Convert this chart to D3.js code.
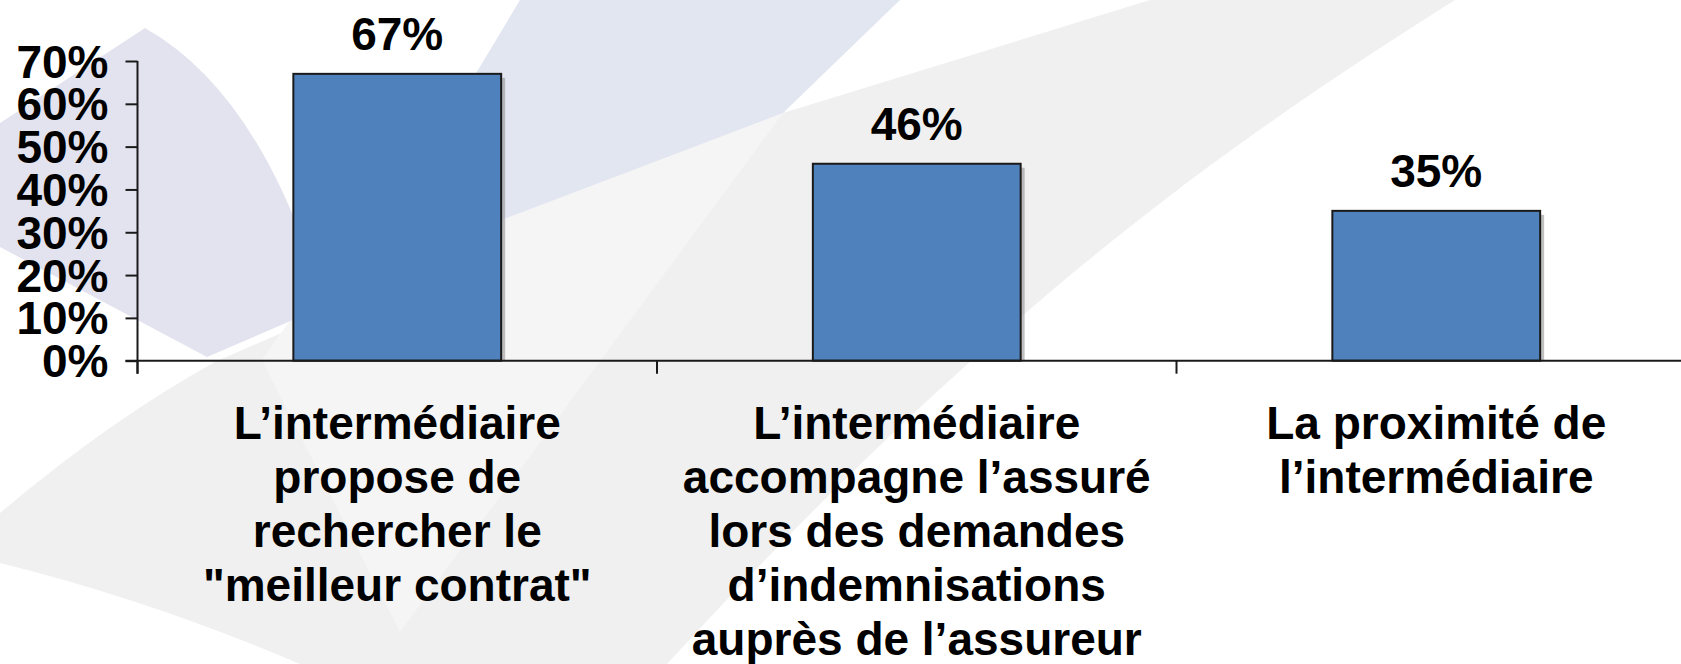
<!DOCTYPE html>
<html>
<head>
<meta charset="utf-8">
<script src="https://cdn.jsdelivr.net/npm/d3@7"></script>
<style>
  body { margin: 0; background: #fff; overflow: hidden; }
  svg text { font-family: "Liberation Sans", Arial, sans-serif; font-weight: bold; fill: #000; }
</style>
</head>
<body>
<svg id="chart" width="1681" height="664"></svg>
<script>
// data
var categories = ['meilleur-contrat', 'indemnisations', 'proximite'];
var categoryLines = [
    ['L’intermédiaire', 'propose de', 'rechercher le', '"meilleur contrat"'],
    ['L’intermédiaire', 'accompagne l’assuré', 'lors des demandes', 'd’indemnisations', 'auprès de l’assureur'],
    ['La proximité de', 'l’intermédiaire']
];
var values = [67, 46, 35];
var yTicks = [0, 10, 20, 30, 40, 50, 60, 70];
var yTickLabels = ['0%', '10%', '20%', '30%', '40%', '50%', '60%', '70%'];

var width = 1681,
    height = 664,
    axisX = 137.5,
    axisY = 360.7,
    topY = 61,
    fontSize = 46;

var svg = d3.select('#chart');

drawBackground();

var y = d3.scaleLinear()
    .domain([0, 70])
    .range([axisY, topY]);

var x = d3.scaleBand()
    .domain(categories)
    .range([axisX, axisX + 3 * 519.5])
    .paddingInner(0.6)
    .paddingOuter(0.3);

// bars with their little drop shadow
var bars = svg.append('g').attr('class', 'bars');

bars.selectAll('rect.shadow')
    .data(values)
    .enter().append('rect')
    .attr('class', 'shadow')
    .attr('x', function(d, i){ return x(categories[i]) + 4; })
    .attr('y', function(d){ return y(d) + 4; })
    .attr('width', x.bandwidth())
    .attr('height', function(d){ return axisY - y(d) - 4; })
    .attr('fill', '#8c8c8c')
    .attr('opacity', 0.55);

bars.selectAll('rect.bar')
    .data(values)
    .enter().append('rect')
    .attr('class', 'bar')
    .attr('x', function(d, i){ return x(categories[i]); })
    .attr('y', function(d){ return y(d); })
    .attr('width', x.bandwidth())
    .attr('height', function(d){ return axisY - y(d); })
    .attr('fill', '#4f81bd')
    .attr('stroke', '#1a1a1a')
    .attr('stroke-width', 2);

// value labels above the bars
bars.selectAll('text.value')
    .data(values)
    .enter().append('text')
    .attr('class', 'value')
    .attr('x', function(d, i){ return x(categories[i]) + x.bandwidth() / 2; })
    .attr('y', function(d){ return y(d) - 24; })
    .attr('text-anchor', 'middle')
    .style('font-size', fontSize + 'px')
    .text(function(d){ return d + '%'; });

// y axis
var yAxis = d3.axisLeft(y)
    .tickValues(yTicks)
    .tickFormat(function(d, i){ return yTickLabels[i]; })
    .tickSize(12)
    .tickSizeOuter(0)
    .tickPadding(17);

var yg = svg.append('g')
    .attr('transform', 'translate(' + axisX + ',0)')
    .call(yAxis);

yg.select('.domain').remove();
yg.selectAll('.tick line').attr('stroke', '#1a1a1a').attr('stroke-width', 2);
yg.selectAll('.tick text')
    .attr('dy', '0.35em')
    .style('font-size', fontSize + 'px')
    .style('font-family', '"Liberation Sans", Arial, sans-serif')
    .style('font-weight', 'bold')
    .attr('fill', '#000');

// axis lines: the vertical one runs a bit under the baseline
svg.append('line')
    .attr('x1', axisX).attr('x2', axisX)
    .attr('y1', y(70)).attr('y2', axisY + 13)
    .attr('stroke', '#1a1a1a').attr('stroke-width', 2);

svg.append('line')
    .attr('x1', axisX - 12).attr('x2', width)
    .attr('y1', axisY).attr('y2', axisY)
    .attr('stroke', '#1a1a1a').attr('stroke-width', 2);

// category separators on the x axis
var boundaries = d3.range(categories.length + 1).map(function(i){
    return x.range()[0] + i * x.step();
});

svg.selectAll('line.sep')
    .data(boundaries)
    .enter().append('line')
    .attr('class', 'sep')
    .attr('x1', function(d){ return d; })
    .attr('x2', function(d){ return d; })
    .attr('y1', axisY)
    .attr('y2', axisY + 13)
    .attr('stroke', '#1a1a1a')
    .attr('stroke-width', 2);

// category labels, one tspan per line
var labels = svg.selectAll('text.cat')
    .data(categories)
    .enter().append('text')
    .attr('class', 'cat')
    .attr('text-anchor', 'middle')
    .attr('y', 439)
    .style('font-size', fontSize + 'px');

labels.each(function(cat, i){
    var t = d3.select(this);
    var cx = x(cat) + x.bandwidth() / 2;
    categoryLines[i].forEach(function(line, j){
        t.append('tspan')
            .attr('x', cx)
            .attr('dy', j === 0 ? 0 : 54)
            .text(line);
    });
});

function drawBackground() {
    // soft swooshes of the slide template
    var bg = svg.append('g').attr('class', 'bg');

    bg.append('path')
        .attr('d', 'M783,113 L1150,0 L1455,0 C1250,130 1010,290 667,664 L300,664 Q150,600 0,563 L0,513 Q110,420 215,362 Z')
        .attr('fill', '#f0f0f0');

    bg.append('path')
        .attr('d', 'M783,113 L400,632 L262,360 L340,250 Z')
        .attr('fill', '#f5f5f5');

    bg.append('path')
        .attr('d', 'M520,0 L900,0 L783,113 L370,270 L475,75 Z')
        .attr('fill', '#e2e6f1');

    bg.append('path')
        .attr('d', 'M0,123 L145,28 Q258,92 318,285 L293,320 L207,357 L0,247 Z')
        .attr('fill', '#e3e3ef');
}
</script>
</body>
</html>
